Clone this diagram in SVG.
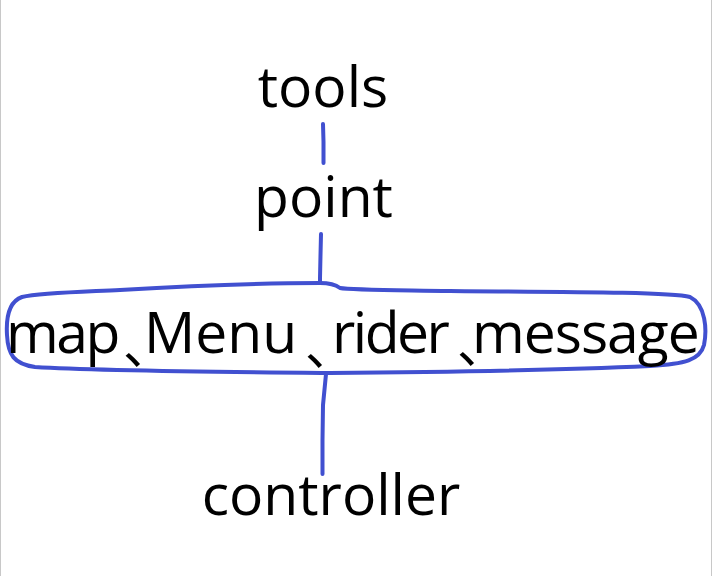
<svg xmlns="http://www.w3.org/2000/svg" width="712" height="576" viewBox="0 0 712 576">
<style>
.t{font-family:"Open Sans","Noto Sans",sans-serif;font-size:57px;fill:#000}
.k{font-family:"Noto Sans CJK SC","Noto Sans CJK JP",sans-serif;font-size:50px;letter-spacing:-36px}
.c{fill:none;stroke:#4150D0;stroke-width:4;stroke-linecap:round;stroke-linejoin:round}
</style>
<rect x="0" y="0" width="712" height="576" fill="#fff"/>
<line x1="0.5" y1="0" x2="0.5" y2="576" stroke="#c8c8c8"/>
<line x1="711.5" y1="0" x2="711.5" y2="576" stroke="#c8c8c8"/>
<g id="connectors">
<path class="c" d="M323 124 L323.5 142 L323.5 163"/>
<path class="c" d="M321 234 L320.5 255 L320 278 L320 283"/>
<path class="c" d="M326 374 L323 405 L322.5 440 L322.5 474"/>
</g>
<g id="tools"><text class="t" x="323" y="107" text-anchor="middle">tools</text></g>
<g id="point"><text class="t" x="323.5" y="217" text-anchor="middle">point</text></g>
<g id="group">
<path class="c" d="M320 283 C 250 283 170 287 120 290 C 80 292 40 293 22 297 C 8 302 6 318 7 335 C 8 355 14 364 35 367 C 100 371 220 372 330 373 C 450 372 560 370 650 366 C 685 364 700 360 704 345 C 707 330 706 305 690 297 C 670 292 560 292 450 291 C 390 290 350 290 340 288 C 336 285 330 283 320 283"/>
<text class="t"><tspan x="6" y="353" letter-spacing="-2.5">map</tspan><tspan class="k" x="123" y="364">、</tspan><tspan x="144" y="353">Menu</tspan><tspan class="k" x="305" y="365">、</tspan><tspan x="332" y="353" letter-spacing="-2.5">rider</tspan><tspan class="k" x="457" y="363">、</tspan><tspan x="472" y="353" letter-spacing="-1">message</tspan></text>
</g>
<g id="controller"><text class="t" x="331" y="515" text-anchor="middle">controller</text></g>
</svg>
